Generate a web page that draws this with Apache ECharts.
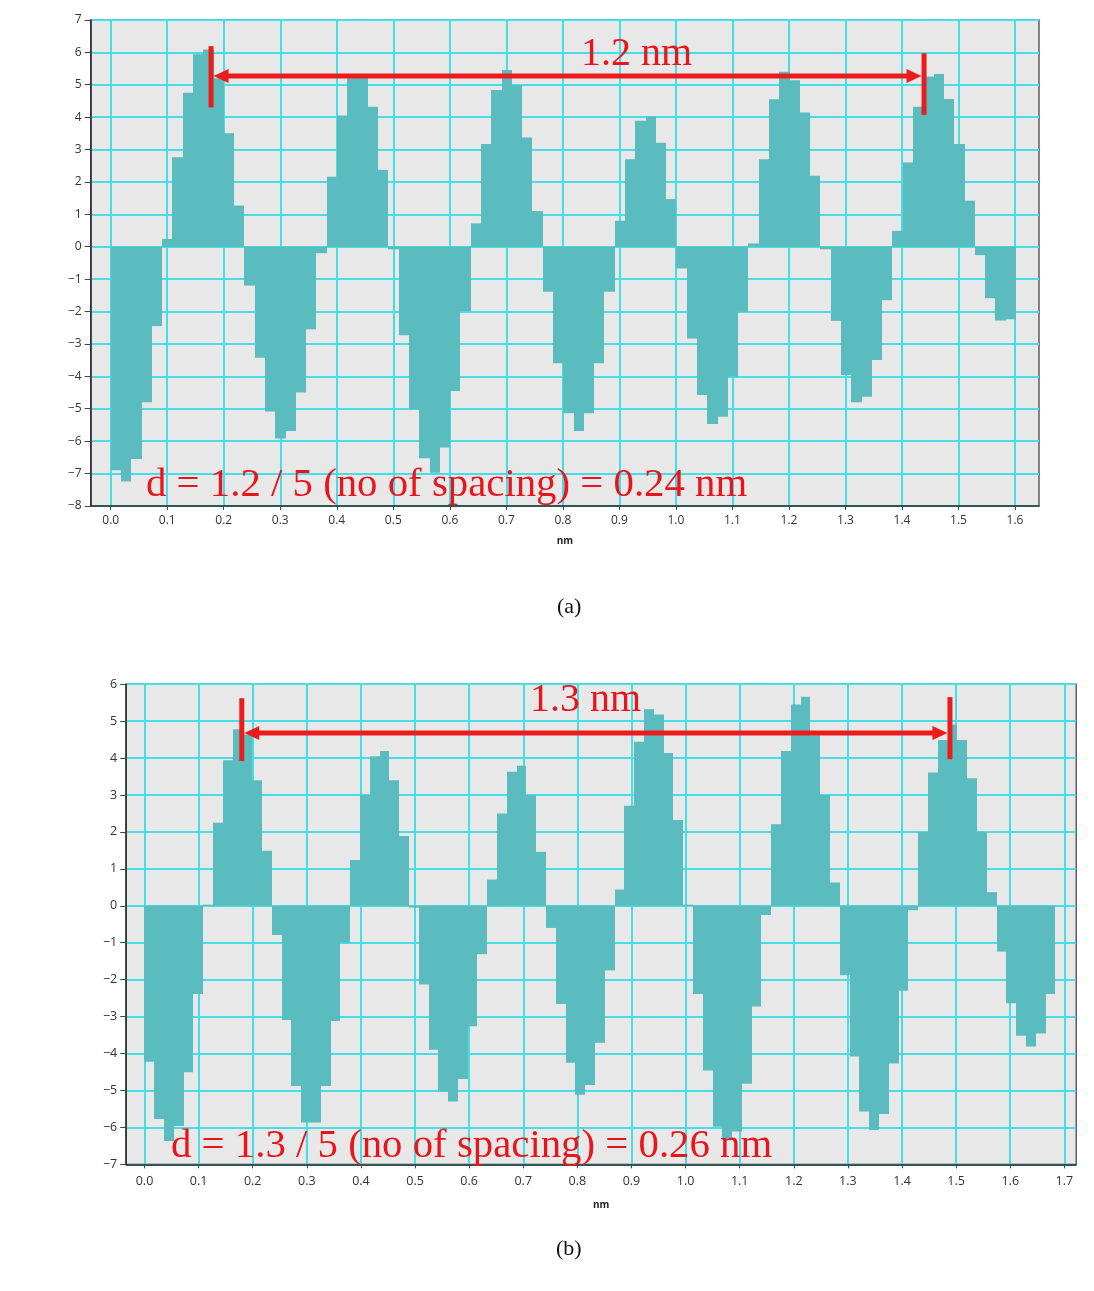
<!DOCTYPE html>
<html>
<head>
<meta charset="utf-8">
<script src="https://cdn.jsdelivr.net/npm/echarts@6/dist/echarts.min.js"></script>
<style>
html,body{margin:0;padding:0;background:#ffffff;}
#chart{width:1094px;height:1291px;}
</style>
</head>
<body>
<div id="chart"></div>
<script>
// ---------------- DATA ----------------
// x-axis tick labels (nm)
const xTicksA = [0.0,0.1,0.2,0.3,0.4,0.5,0.6,0.7,0.8,0.9,1.0,1.1,1.2,1.3,1.4,1.5,1.6];
const xTicksB = [0.0,0.1,0.2,0.3,0.4,0.5,0.6,0.7,0.8,0.9,1.0,1.1,1.2,1.3,1.4,1.5,1.6,1.7];

// profile (a): bins start at 0 nm, constant bin width (nm)
const binStartA = 0.0;
const binWidthA = 0.0182;
const valuesA = [
  -6.9, -7.25, -6.55, -4.8, -2.45,
  0.24, 2.76, 4.75, 5.94, 6.09, 5.2, 3.5, 1.27,
  -1.2, -3.43, -5.09, -5.92, -5.69, -4.5, -2.55, -0.2,
  2.16, 4.05, 5.25, 5.3, 4.32, 2.37,
  -0.08,
  -2.73, -5.02, -6.53, -6.98, -6.2, -4.45, -1.99,
  0.72, 3.17, 4.84, 5.45, 4.99, 3.37, 1.1,
  -1.39, -3.6, -5.14, -5.69, -5.14, -3.6, -1.39,
  0.8, 2.7, 3.89, 4.03, 3.21, 1.47,
  -0.67, -2.83, -4.58, -5.47, -5.25, -4.01, -2.01,
  0.1, 2.7, 4.55, 5.4, 5.14, 4.14, 2.19,
  -0.08,
  -2.29, -3.96, -4.8, -4.63, -3.5, -1.65,
  0.49, 2.6, 4.32, 5.25, 5.33, 4.56, 3.17, 1.42,
  -0.26, -1.59, -2.28, -2.24
];

// profile (b)
const binStartB = 0.0;
const binWidthB = 0.0181;
const valuesB = [
  -4.22, -5.77, -6.37, -5.96, -4.51, -2.39,
  0.03,
  2.25, 3.94, 4.78, 4.64, 3.40, 1.49,
  -0.79, -3.09, -4.88, -5.87, -5.87, -4.88, -3.12, -0.99,
  1.24, 3.0, 4.05, 4.19, 3.40, 1.89,
  -0.05,
  -2.13, -3.9, -5.03, -5.3, -4.69, -3.26, -1.31,
  0.71, 2.5, 3.63, 3.79, 3.0, 1.46,
  -0.6, -2.66, -4.25, -5.12, -4.85, -3.71, -1.75,
  0.44, 2.71, 4.44, 5.32, 5.18, 4.14, 2.32,
  0.03,
  -2.39, -4.46, -5.98, -6.35, -6.11, -4.82, -2.73, -0.25,
  2.21, 4.19, 5.45, 5.66, 4.62, 3.0, 0.63,
  -1.88, -4.08, -5.57, -6.07, -5.64, -4.27, -2.30, -0.12,
  2.0, 3.61, 4.49, 4.91, 4.49, 3.45, 2.0, 0.37,
  -1.24, -2.64, -3.52, -3.81, -3.46, -2.39
];

// measurement annotations: [xLeft, xRight, yArrow, leftBarLow, leftBarHigh, rightBarLow, rightBarHigh]
const spanA = [0.1775, 1.439, 5.27, 4.30, 6.19, 4.07, 5.97];
const spanB = [0.1798, 1.4886, 4.68, 3.92, 5.62, 3.97, 5.65];
const spanTextA = '1.2 nm';
const spanTextB = '1.3 nm';
const noteTextA = 'd = 1.2 / 5 (no of spacing) = 0.24 nm';
const noteTextB = 'd = 1.3 / 5 (no of spacing) = 0.26 nm';
const captionA = '(a)';
const captionB = '(b)';

// ---------------- STYLE ----------------
const BAR = '#5abcbf';
const GRIDC = '#45dde6';
const PLOTBG = '#e8e8e8';
const RED = '#ec1c1c';
const TEXTRED = '#e8161c';

function bins(start, w, vals) {
  return vals.map((v, i) => [start + i * w, start + (i + 1) * w, v]);
}

function renderBar(params, api) {
  const a = api.coord([api.value(0), api.value(2)]);
  const b = api.coord([api.value(1), 0]);
  const x0 = Math.round(a[0]);
  const x1 = Math.round(b[0]);
  const y0 = Math.min(a[1], b[1]);
  const y1 = Math.max(a[1], b[1]);
  return {
    type: 'rect',
    shape: { x: x0, y: y0, width: x1 - x0, height: y1 - y0 },
    style: { fill: BAR, stroke: null }
  };
}

function renderSpan(params, api) {
  const xl = api.value(0), xr = api.value(1), ya = api.value(2);
  const L1 = api.coord([xl, api.value(3)]), L2 = api.coord([xl, api.value(4)]);
  const R1 = api.coord([xr, api.value(5)]), R2 = api.coord([xr, api.value(6)]);
  const A = api.coord([xl, ya]), B = api.coord([xr, ya]);
  const lw = 5, head = 15, half = 7;
  const tipL = A[0] + lw / 2, tipR = B[0] - lw / 2;
  return {
    type: 'group',
    children: [
      { type: 'line', shape: { x1: L1[0], y1: L1[1], x2: L2[0], y2: L2[1] }, style: { stroke: RED, lineWidth: lw } },
      { type: 'line', shape: { x1: R1[0], y1: R1[1], x2: R2[0], y2: R2[1] }, style: { stroke: RED, lineWidth: lw } },
      { type: 'line', shape: { x1: tipL + head - 2, y1: A[1], x2: tipR - head + 2, y2: B[1] }, style: { stroke: RED, lineWidth: lw } },
      { type: 'polygon', shape: { points: [[tipL, A[1]], [tipL + head, A[1] - half], [tipL + head, A[1] + half]] }, style: { fill: RED } },
      { type: 'polygon', shape: { points: [[tipR, B[1]], [tipR - head, B[1] - half], [tipR - head, B[1] + half]] }, style: { fill: RED } }
    ]
  };
}

function makeX(gridIndex, min, max, ticks, fontSize, margin, nameGap) {
  return {
    type: 'value', gridIndex: gridIndex, min: min, max: max,
    name: 'nm', nameLocation: 'middle', nameGap: nameGap,
    nameTextStyle: { fontWeight: 'bold', fontSize: 10, color: '#222', fontFamily: 'Open Sans' },
    axisLine: { show: true, onZero: false, lineStyle: { color: '#2a2a2a', width: 1.5 } },
    axisTick: { show: true, customValues: ticks, length: 4, lineStyle: { color: '#444' } },
    axisLabel: { customValues: ticks, formatter: v => v.toFixed(1), fontSize: fontSize, color: '#333', margin: margin, fontFamily: 'Open Sans' },
    splitLine: { show: true, lineStyle: { color: GRIDC, width: 2 } }
  };
}

function makeY(gridIndex, min, max, fontSize, margin) {
  return {
    type: 'value', gridIndex: gridIndex, min: min, max: max, interval: 1,
    axisLine: { show: true, onZero: false, lineStyle: { color: '#2a2a2a', width: 1.5 } },
    axisTick: { show: true, length: 6, lineStyle: { color: '#444' } },
    axisLabel: {
      formatter: v => (v < 0 ? '\u2212' + (-v) : String(v)),
      fontSize: fontSize, color: '#333', margin: margin, fontFamily: 'Open Sans'
    },
    splitLine: { show: true, lineStyle: { color: GRIDC, width: 2 } }
  };
}

const chart = echarts.init(document.getElementById('chart'), null, { renderer: 'canvas' });

const option = {
  animation: false,
  backgroundColor: '#ffffff',
  grid: [
    { left: 90.7, top: 19.9, width: 948.3, height: 486, show: true, backgroundColor: PLOTBG, borderColor: '#3a3a3a', borderWidth: 1.2 },
    { left: 126.2, top: 684.2, width: 950, height: 480.1, show: true, backgroundColor: PLOTBG, borderColor: '#3a3a3a', borderWidth: 1.2 }
  ],
  xAxis: [
    makeX(0, -0.0354, 1.6424, xTicksA, 12, 9, 30),
    makeX(1, -0.0338, 1.7219, xTicksB, 12.5, 11, 36)
  ],
  yAxis: [
    makeY(0, -8, 7, 12, 9),
    makeY(1, -7, 6, 12.5, 9)
  ],
  series: [
    { type: 'custom', name: 'profile a', xAxisIndex: 0, yAxisIndex: 0, renderItem: renderBar,
      encode: { x: [0, 1], y: 2 }, data: bins(binStartA, binWidthA, valuesA), silent: true },
    { type: 'custom', name: 'profile b', xAxisIndex: 1, yAxisIndex: 1, renderItem: renderBar,
      encode: { x: [0, 1], y: 2 }, data: bins(binStartB, binWidthB, valuesB), silent: true },
    { type: 'custom', name: 'span a', xAxisIndex: 0, yAxisIndex: 0, renderItem: renderSpan,
      encode: { x: [0, 1], y: [2, 3, 4, 5, 6] }, data: [spanA], silent: true, z: 10 },
    { type: 'custom', name: 'span b', xAxisIndex: 1, yAxisIndex: 1, renderItem: renderSpan,
      encode: { x: [0, 1], y: [2, 3, 4, 5, 6] }, data: [spanB], silent: true, z: 10 }
  ],
  graphic: [
    { type: 'text', left: 581, top: 34, z: 100, style: { text: spanTextA, font: '40px "Liberation Serif", serif', fill: TEXTRED } },
    { type: 'text', left: 146, top: 465, z: 100, style: { text: noteTextA, font: '40.8px "Liberation Serif", serif', fill: TEXTRED } },
    { type: 'text', left: 530, top: 680, z: 100, style: { text: spanTextB, font: '40px "Liberation Serif", serif', fill: TEXTRED } },
    { type: 'text', left: 171, top: 1126, z: 100, style: { text: noteTextB, font: '40.8px "Liberation Serif", serif', fill: TEXTRED } },
    { type: 'text', left: 557, top: 596, style: { text: captionA, font: '22px "Liberation Serif", serif', fill: '#111' } },
    { type: 'text', left: 556, top: 1238, style: { text: captionB, font: '22px "Liberation Serif", serif', fill: '#111' } }
  ]
};
chart.setOption(option);
</script>
</body>
</html>
